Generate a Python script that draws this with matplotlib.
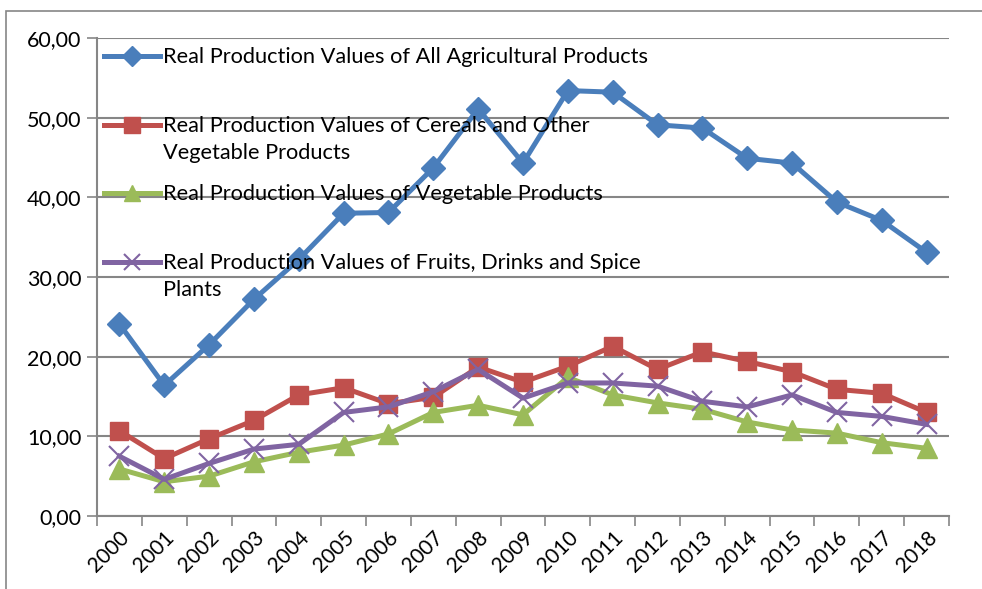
import matplotlib
matplotlib.use("Agg")
import matplotlib.pyplot as plt
from matplotlib.patches import Rectangle
from matplotlib.ticker import FixedLocator, FuncFormatter

plt.rcParams['font.family'] = ['Lato', 'DejaVu Sans']

years = [str(y) for y in range(2000, 2019)]

all_agri = [24.1, 16.4, 21.5, 27.2, 32.2, 38.0, 38.1, 43.7, 51.1, 44.3,
            53.4, 53.2, 49.1, 48.7, 44.9, 44.3, 39.4, 37.1, 33.1]
cereals = [10.7, 7.2, 9.7, 12.0, 15.2, 16.1, 14.1, 14.9, 18.7, 16.8,
           18.8, 21.3, 18.4, 20.6, 19.4, 18.1, 15.9, 15.4, 13.0]
vegetable = [5.9, 4.3, 5.0, 6.8, 8.0, 8.9, 10.3, 13.0, 13.9, 12.7,
             17.4, 15.2, 14.2, 13.4, 11.8, 10.8, 10.4, 9.2, 8.5]
fruits = [7.5, 4.6, 6.6, 8.4, 9.0, 13.0, 13.7, 15.6, 18.4, 14.8,
          16.7, 16.7, 16.3, 14.4, 13.7, 15.2, 13.0, 12.5, 11.5]

labels = ["Real Production Values of All Agricultural Products",
          "Real Production Values of Cereals and Other\nVegetable Products",
          "Real Production Values of Vegetable Products",
          "Real Production Values of Fruits, Drinks and Spice\nPlants"]

W, H = 982, 589
fig = plt.figure(figsize=(W / 100, H / 100), dpi=100)
ax = fig.add_axes([97 / W, 1 - 516 / H, (949 - 97) / W, (516 - 38) / H])

grey = '#868686'
x = list(range(len(years)))
styles = [
    (all_agri, '#4A7EBB', 'D', 12, dict(mec='#4A7EBB')),
    (cereals, '#C0504D', 's', 13, dict(mec='#C0504D')),
    (vegetable, '#9BBB59', '^', 14, dict(mec='#9BBB59')),
    (fruits, '#8064A2', 'x', 14, dict(mew=1.5)),
]
for vals, col, mk, ms, kw in styles:
    ax.plot(x, vals, color=col, lw=3.6, marker=mk, ms=ms, zorder=3, **kw)

ax.set_xlim(-0.5, len(years) - 0.5)
ax.set_ylim(0, 60)
ax.set_yticks(range(0, 61, 10))
ax.yaxis.set_major_formatter(FuncFormatter(lambda v, p: f"{v:.2f}".replace('.', ',')))
ax.grid(axis='y', color=grey, lw=1.5, zorder=0)
ax.set_xticks(x)
ax.set_xticklabels(years, rotation=45, ha='right', rotation_mode='anchor')
ax.xaxis.set_minor_locator(FixedLocator([i - 0.5 for i in range(len(years) + 1)]))
ax.tick_params(axis='x', which='major', length=0, pad=8, labelsize=15)
ax.tick_params(axis='x', which='minor', length=7, width=1.2, color=grey)
ax.tick_params(axis='y', length=7, width=1.2, color=grey, labelsize=15.5, pad=4)
for s in ['top', 'right']:
    ax.spines[s].set_visible(False)
for s in ['left', 'bottom']:
    ax.spines[s].set_color(grey)
    ax.spines[s].set_linewidth(1.5)

# legend drawn inside the plot area, handle aligned with first text line
leg_y = [56, 125, 193, 262]
for (vals, col, mk, ms, kw), lab, yp in zip(styles, labels, leg_y):
    yf = 1 - yp / H
    fig.add_artist(plt.Line2D([104 / W, 160 / W], [yf, yf], color=col, lw=3.6,
                              transform=fig.transFigure))
    fig.add_artist(plt.Line2D([132 / W], [yf], color=col, marker=mk, ms=ms * 0.85,
                              transform=fig.transFigure, **kw))
    fig.text(163 / W, yf + 9 / H, lab, fontsize=15.7, va='top', ha='left',
             linespacing=1.45, transform=fig.transFigure)

fig.add_artist(Rectangle((6 / W, -0.1), 1, 1 - 11 / H + 0.1, fill=False,
                         ec=grey, lw=1.2, transform=fig.transFigure))

fig.savefig('out.png', dpi=100)
